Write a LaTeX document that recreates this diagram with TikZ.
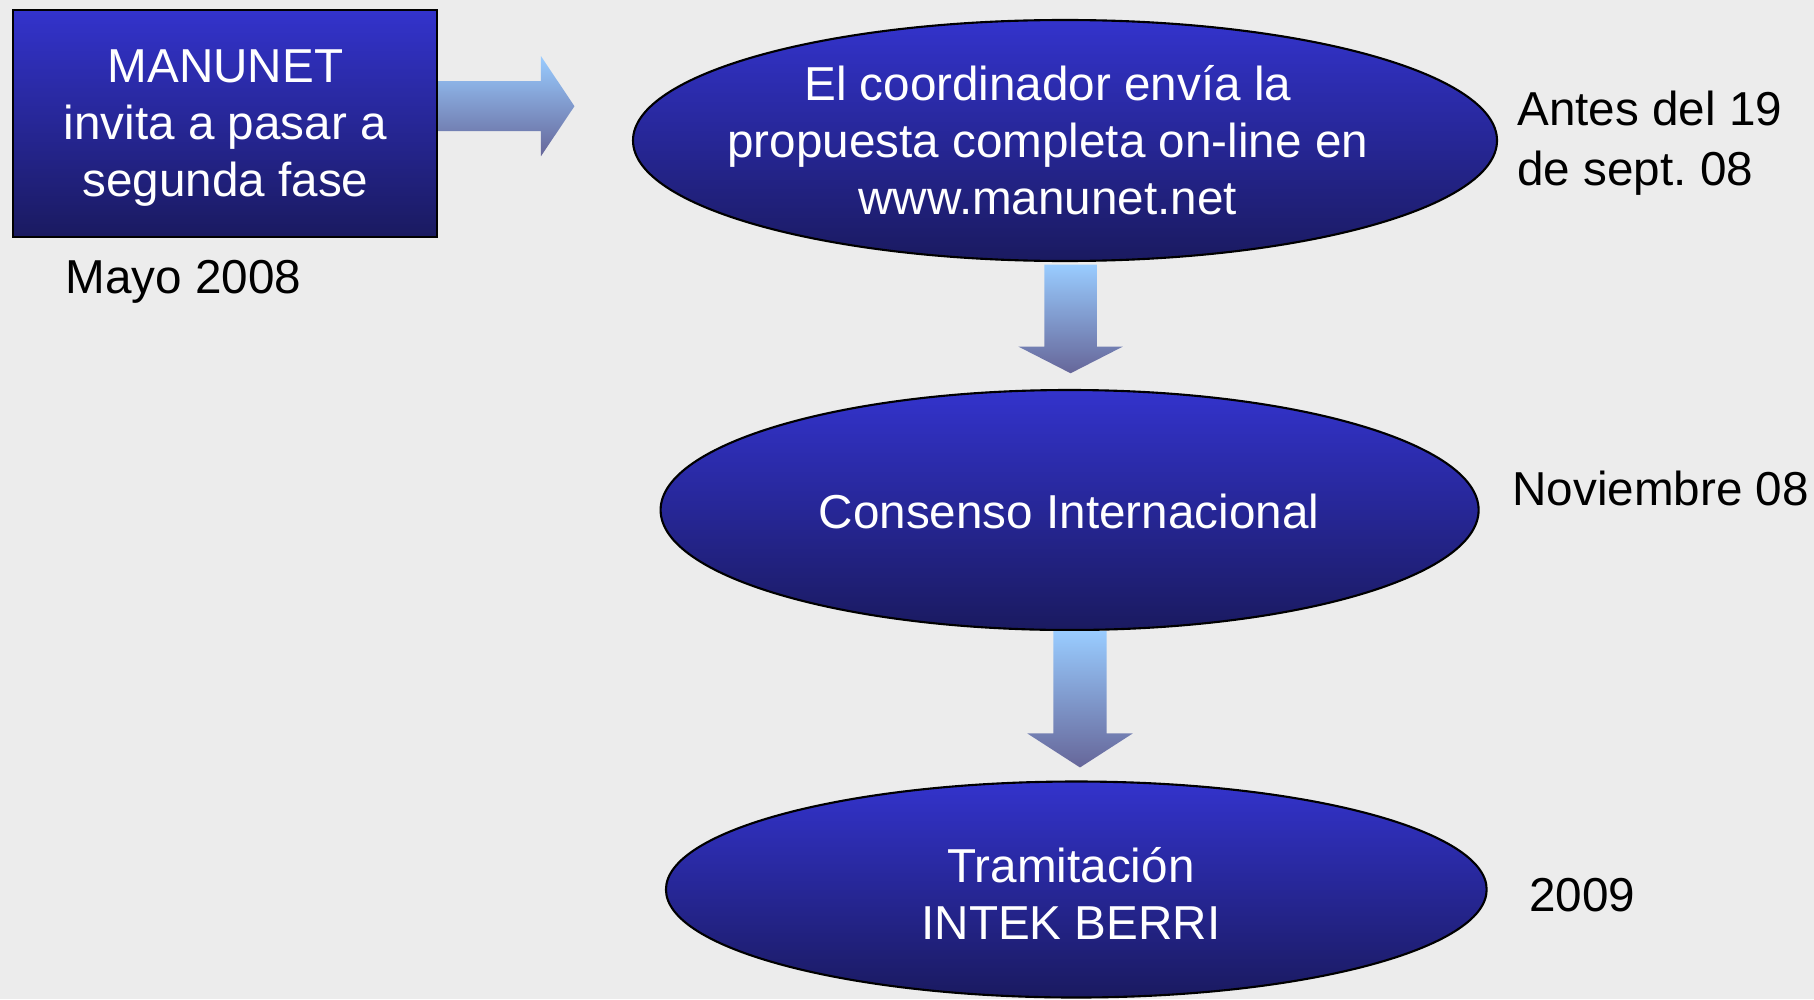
\documentclass[tikz,border=0pt]{standalone}
\usepackage{fontspec}
\setmainfont{Liberation Sans}
\usetikzlibrary{shapes.geometric,positioning}
\frenchspacing

\definecolor{azul}{RGB}{51,51,204}
\definecolor{marino}{RGB}{26,26,96}
\definecolor{celeste}{RGB}{153,204,255}
\definecolor{malva}{RGB}{102,102,153}
\definecolor{fondo}{RGB}{236,236,236}

\begin{document}
\begin{tikzpicture}[
  texto/.style={font=\fontsize{13.55}{16.2}\selectfont, align=center, inner sep=0pt},
  blanco/.style={texto, text=white},
  fecha/.style={texto, align=left},
  caja/.style={blanco, draw=black, line width=0.6pt, top color=azul, bottom color=marino},
  fase/.style={ellipse, draw=black, line width=0.6pt, top color=azul, bottom color=marino, inner sep=0pt},
  flecha/.style={top color=celeste, bottom color=malva}
]
\useasboundingbox (0,0) rectangle (18.14,-9.99);
\fill[fondo] (0,0) rectangle (18.14,-9.99);

% primera fase
\node[caja, minimum width=4.24cm, minimum height=2.267cm, text depth=0pt] (manunet) at (2.254,-1.234) {MANUNET\\invita a pasar a\\segunda fase};
\node[texto, anchor=base] (mayo) at (1.835,-2.93) {Mayo 2008};

% elipses
\node[fase, minimum width=8.64cm, minimum height=2.41cm] (envio) at (10.65,-1.405) {};
\node[blanco] (enviotxt) at (10.478,-1.40) {El coordinador envía la\\propuesta completa on-line en\\www.manunet.net};
\node[fase, minimum width=8.18cm, minimum height=2.40cm] (consenso) at (10.696,-5.10) {};
\node[blanco] (consensotxt) at (10.69,-5.11) {Consenso Internacional};
\node[fase, minimum width=8.207cm, minimum height=2.16cm] (tramite) at (10.763,-8.895) {};
\node[blanco] (tramitetxt) at (10.71,-8.93) {Tramitación\\INTEK BERRI};

% fechas
\node[fecha, anchor=west, font=\fontsize{13.55}{17.1}\selectfont] (antes) at (15.167,-1.436) {Antes del 19\\de sept. 08};
\node[fecha, anchor=base west] (noviembre) at (15.117,-5.05) {Noviembre 08};
\node[fecha, anchor=base west] (anio) at (15.285,-9.117) {2009};

% flechas
\shade[flecha] ([yshift=4.22mm]manunet.east) -- ++(1.025,0) -- ++(0,0.25) -- ++(0.335,-0.5) -- ++(-0.335,-0.5) -- ++(0,0.25) -- ++(-1.025,0) -- cycle;
\shade[flecha] ([xshift=-2.07mm,yshift=-0.25mm]envio.south) -- ++(0,-0.82) -- ++(-0.26,0) -- ++(0.523,-0.267) -- ++(0.523,0.267) -- ++(-0.26,0) -- ++(0,0.82) -- cycle;
\shade[flecha] ([xshift=-1.63mm]consenso.south) -- ++(0,-1.024) -- ++(-0.26,0) -- ++(0.527,-0.34) -- ++(0.527,0.34) -- ++(-0.26,0) -- ++(0,1.024) -- cycle;
\end{tikzpicture}
\end{document}
